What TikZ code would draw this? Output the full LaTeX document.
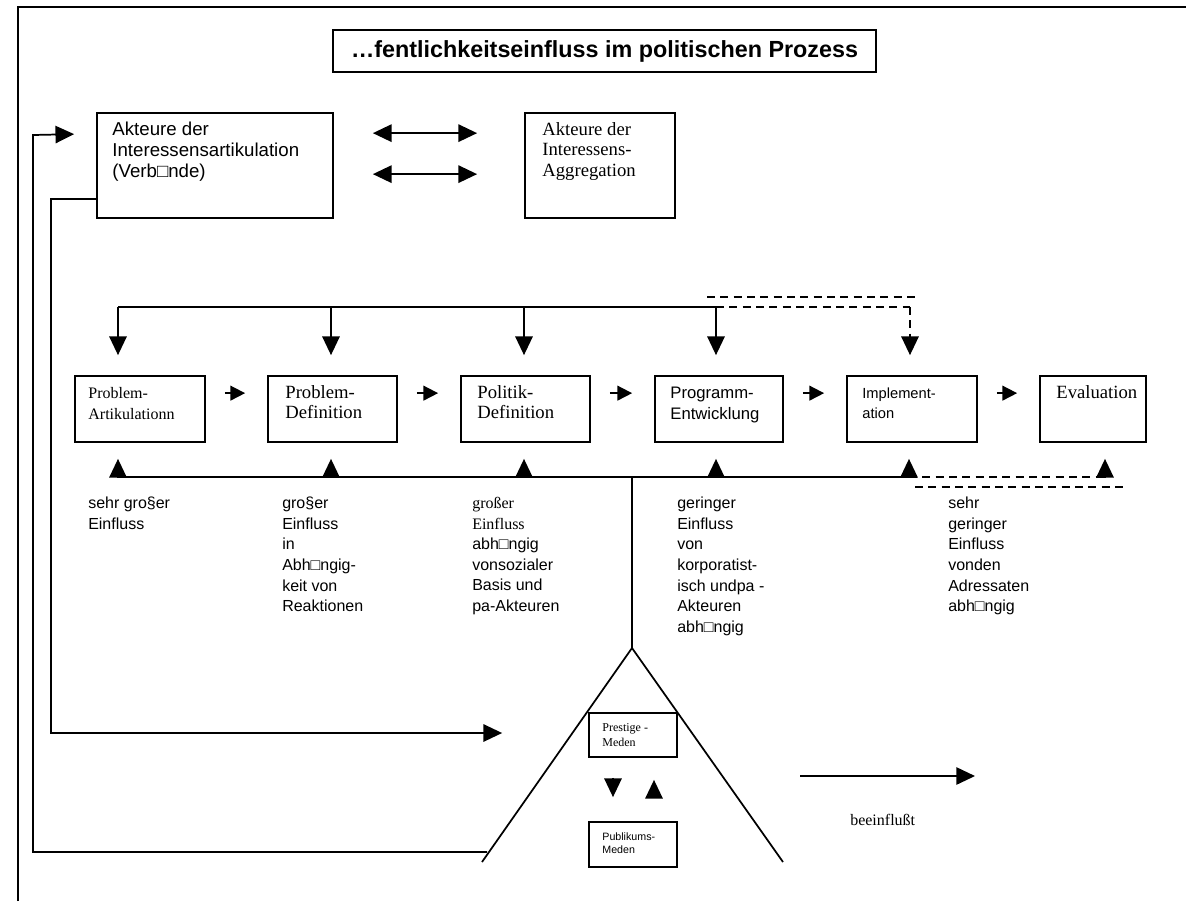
\documentclass[tikz,border=0pt]{standalone}
\usepackage{fontspec}
\setmainfont{Liberation Serif}
\setsansfont{Liberation Sans}
\usetikzlibrary{arrows.meta,positioning,fit,calc}
\newcommand{\fs}[2]{\fontsize{#1}{#2}\selectfont}
\tikzset{
  box/.style={draw,line width=1.3pt,inner sep=0pt},
  ln/.style={line width=1.3pt},
  arr/.style={ln,-{Triangle[length=14pt,width=13pt]}},
  darr/.style={ln,{Triangle[length=14pt,width=13pt]}-{Triangle[length=14pt,width=13pt]}},
  sarr/.style={ln,-{Triangle[length=11pt,width=11pt]}},
  dsh/.style={ln,dash pattern=on 6pt off 4pt},
  txt/.style={anchor=north west,align=left,inner sep=0pt,font={\sffamily\fs{12}{15.4}}},
}
\begin{document}
\begin{tikzpicture}[x=0.75pt,y=-0.75pt]
\useasboundingbox (0,0) rectangle (1186,901);
% page frame
\draw[line width=1.5pt] (18,901) -- (18,7) -- (1186,7);
% title
\node[box,fit={(333,30)(876,72)}] (titel) {};
\node[font={\sffamily\bfseries\fs{17.5}{20}},inner sep=0pt] (titelT) at (titel.center) {…fentlichkeitseinfluss im politischen Prozess};
% actors
\node[box,fit={(97,113)(333,218)}] (artik) {};
\node[txt,font={\sffamily\fs{14}{15.4}}] (artikT) at ($(artik.north west)+(16,10)$) {Akteure der\\Interessensartikulation\\(Verb□nde)};
\node[box,fit={(525,113)(675,218)}] (aggr) {};
\node[txt,font={\rmfamily\fs{14}{15.4}}] (aggrT) at ($(aggr.north west)+(18,10)$) {Akteure der\\Interessens-\\Aggregation};
\draw[darr] ($(artik.north east)+(39,21)$) -- ($(aggr.north west)+(-47,21)$);
\draw[darr] ($(artik.north east)+(39,62)$) -- ($(aggr.north west)+(-47,62)$);
% process steps
\node[box,fit={(75,376)(205,442)}] (p1) {};
\node[box,fit={(268,376)(397,442)}] (p2) {};
\node[box,fit={(461,376)(590,442)}] (p3) {};
\node[box,fit={(655,376)(783,442)}] (p4) {};
\node[box,fit={(847,376)(977,442)}] (p5) {};
\node[box,fit={(1040,376)(1146,442)}] (p6) {};
\node[txt,font={\rmfamily\fs{12}{15.4}}] (p1T) at ($(p1.north west)+(14,12)$) {Problem-\\Artikulationn};
\node[txt,font={\rmfamily\fs{14}{15.4}}] (p2T) at ($(p2.north west)+(18,10)$) {Problem-\\Definition};
\node[txt,font={\rmfamily\fs{14}{15.4}}] (p3T) at ($(p3.north west)+(17,10)$) {Politik-\\Definition};
\node[txt,font={\sffamily\fs{12.5}{15.4}}] (p4T) at ($(p4.north west)+(16,12)$) {Programm-\\Entwicklung};
\node[txt,font={\sffamily\fs{11}{15.4}}] (p5T) at ($(p5.north west)+(16,12)$) {Implement-\\ation};
\node[txt,font={\rmfamily\fs{14}{15.4}}] (p6T) at ($(p6.north west)+(17,10)$) {Evaluation};
\foreach \a/\b in {p1/p2,p2/p3,p3/p4,p4/p5,p5/p6}
  \draw[sarr] ($(\a.north east)+(19,18)$) -- ($(\b.north west)+(-22,18)$);
% from the actors
\coordinate (a1) at (118,307);
\coordinate (a2) at (331,307);
\coordinate (a3) at (524,307);
\coordinate (a4) at (716,307);
\coordinate (a5) at (910,307);
\draw[ln] ($(artik.south)+(7,0)$) -- ($(artik.south)+(7,0)$ |- a1);
\draw[ln] ($(aggr.south)+(7,0)$) -- ($(aggr.south)+(7,0)$ |- a1);
\draw[ln] (a1) -- (a4);
\foreach \c/\b in {a1/p1,a2/p2,a3/p3,a4/p4}
  \draw[arr,shorten >=15pt] (\c) -- (\c |- \b.north);
\draw[dsh] (707,297) -- (920,297);
\draw[dsh] (a4) -- (a5);
\draw[dsh,arr,shorten >=15pt] (a5) -- (a5 |- p5.north);
% from the media
\coordinate (b1) at (118,477);
\coordinate (b2) at (331,477);
\coordinate (b3) at (524,477);
\coordinate (b4) at (716,477);
\coordinate (b5) at (909,477);
\coordinate (b6) at (1105,477);
\draw[ln] (b1) -- (b5);
\foreach \c/\b in {b1/p1,b2/p2,b3/p3,b4/p4,b5/p5}
  \draw[arr,shorten >=12pt] (\c) -- (\c |- \b.south);
\draw[dsh] (b5) -- (b6);
\draw[dsh,arr,shorten >=12pt] (b6) -- (b6 |- p6.south);
\draw[dsh] (915,487) -- (1128,487);
% influence columns
\node[txt] (c1) at (88,497) {sehr gro§er\\Einfluss};
\node[txt] (c2) at (282,497) {gro§er\\Einfluss\\in\\Abh□ngig-\\keit von\\Reaktionen};
\node[txt] (c3) at (472,497) {{\rmfamily großer}\\{\rmfamily Einfluss}\\abh□ngig\\vonsozialer\\Basis und\\pa-Akteuren};
\node[txt] (c4) at (677,497) {geringer\\Einfluss\\von\\korporatist-\\isch undpa -\\Akteuren\\abh□ngig};
\node[txt] (c5) at (948,497) {sehr\\geringer\\Einfluss\\vonden\\Adressaten\\abh□ngig};
% media pyramid
\coordinate (apex) at (632,648);
\draw[ln] (apex |- b1) -- (apex);
\draw[ln] (482,862) -- (apex) -- (783,862);
\node[box,fill=white,fit={(589,713)(677,757)}] (prest) {};
\node[txt,font={\rmfamily\fs{9}{11}}] (prestT) at ($(prest.north west)+(14,11)$) {Prestige -\\Meden};
\node[box,fill=white,fit={(589,822)(677,867)}] (publ) {};
\node[txt,font={\sffamily\fs{8}{10}}] (publT) at ($(publ.north west)+(14,11)$) {Publikums-\\Meden};
\draw[arr] ($(prest.south)+(-20,20)$) -- ($(publ.north)+(-20,-24)$);
\draw[arr] ($(publ.north)+(21,-24)$) -- ($(prest.south)+(21,22)$);
% feedback to the actors
\coordinate (fb) at (487,852);
\draw[arr] (fb) -| (33,135) -- ($(artik.north west)+(-22,22)$);
\draw[arr] ($(artik.south west)+(0,-20)$) -- ++(-45,0) |- ($(prest.west)+(-86,-2)$);
% legend
\coordinate (lg) at (800,776);
\draw[arr] (lg) -- ++(175,0);
\node[txt,font={\rmfamily\fs{12}{15.4}}] (lgT) at (850,814) {beeinflußt};
\end{tikzpicture}
\end{document}
